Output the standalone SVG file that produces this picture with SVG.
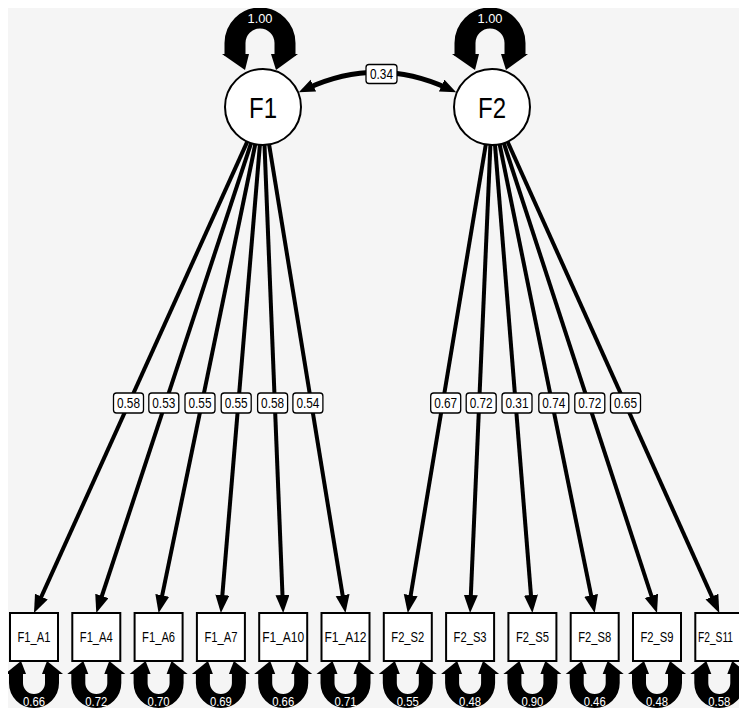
<svg xmlns="http://www.w3.org/2000/svg" width="739" height="708" viewBox="0 0 739 708">
<defs>
<clipPath id="clip"><rect x="8" y="8" width="731" height="700"/></clipPath>
<marker id="ah" markerUnits="userSpaceOnUse" markerWidth="20" markerHeight="16" refX="8" refY="7" orient="auto"><path d="M0,0 L18,7 L0,14 Z" fill="#000"/></marker>
<marker id="ahc" markerUnits="userSpaceOnUse" markerWidth="18" markerHeight="14" refX="7" refY="6.5" orient="auto-start-reverse"><path d="M0,0 L16,6.5 L0,13 Z" fill="#000"/></marker>
</defs>
<style>
text{font-family:"Liberation Sans",Arial,sans-serif;text-anchor:middle}
.ld{stroke:#000;stroke-width:4;fill:none;marker-end:url(#ah)}
.cv{stroke:#000;stroke-width:5;fill:none;marker-start:url(#ahc);marker-end:url(#ahc)}
.lt{stroke:#000;stroke-width:21;fill:none}
.lb{stroke:#000;stroke-width:14;fill:none}
.lv{fill:#fff;font-size:13px}
.el rect{fill:#fff;stroke:#000;stroke-width:1.3}
.el text{font-size:14px;fill:#000}
.lat circle{fill:#fff;stroke:#000;stroke-width:2}
.lat text{font-size:29px;fill:#000}
.man rect{fill:#fff;stroke:#000;stroke-width:2}
.man text{font-size:14px;fill:#000}
</style>
<rect x="0" y="0" width="739" height="708" fill="#fff"/>
<rect x="8" y="8" width="731" height="700" fill="#f5f5f5"/>
<g clip-path="url(#clip)">
<g id="connectors">
<line class="ld" x1="247.3" y1="141.6" x2="38.1" y2="603.9"/>
<line class="ld" x1="251.1" y1="143.1" x2="99.4" y2="603.5"/>
<line class="ld" x1="255.3" y1="144.2" x2="160.6" y2="603.2"/>
<line class="ld" x1="259.9" y1="144.9" x2="221.7" y2="603.0"/>
<line class="ld" x1="264.5" y1="145.0" x2="282.8" y2="603.0"/>
<line class="ld" x1="269.1" y1="144.5" x2="343.9" y2="603.1"/>
<line class="ld" x1="485.8" y1="144.5" x2="409.4" y2="603.1"/>
<line class="ld" x1="490.4" y1="145.0" x2="470.5" y2="603.0"/>
<line class="ld" x1="495.0" y1="144.9" x2="531.6" y2="603.0"/>
<line class="ld" x1="499.6" y1="144.2" x2="592.7" y2="603.2"/>
<line class="ld" x1="503.8" y1="143.1" x2="653.9" y2="603.5"/>
<line class="ld" x1="507.6" y1="141.7" x2="715.2" y2="603.9"/>
<path class="cv" d="M307,88.5 Q377.5,56 448,88.5"/>
<path class="lt" d="M235,56 L235,43 A25,25 0 0 1 285,43 L285,56"/>
<polygon points="222,54 249,54 245,70"/>
<polygon points="271,54 298,54 276,70"/>
<text class="lv" x="260" y="22.5" textLength="25" lengthAdjust="spacingAndGlyphs">1.00</text>
<path class="lt" d="M465,56 L465,43 A25,25 0 0 1 515,43 L515,56"/>
<polygon points="452,54 479,54 475,70"/>
<polygon points="501,54 528,54 506,70"/>
<text class="lv" x="490" y="22.5" textLength="25" lengthAdjust="spacingAndGlyphs">1.00</text>
<g id="resid">
<path class="lb" d="M16,672 L16,683 A18,18 0 0 0 52,683 L52,672"/><polygon points="5,674 26,674 21,661"/><polygon points="42,674 63,674 47,661"/><text class="lv" x="34" y="706" textLength="22" lengthAdjust="spacingAndGlyphs">0.66</text>
<path class="lb" d="M78.3,672 L78.3,683 A18,18 0 0 0 114.3,683 L114.3,672"/><polygon points="67.3,674 88.3,674 83.3,661"/><polygon points="104.3,674 125.3,674 109.3,661"/><text class="lv" x="96.3" y="706" textLength="22" lengthAdjust="spacingAndGlyphs">0.72</text>
<path class="lb" d="M140.6,672 L140.6,683 A18,18 0 0 0 176.6,683 L176.6,672"/><polygon points="129.6,674 150.6,674 145.6,661"/><polygon points="166.6,674 187.6,674 171.6,661"/><text class="lv" x="158.6" y="706" textLength="22" lengthAdjust="spacingAndGlyphs">0.70</text>
<path class="lb" d="M202.9,672 L202.9,683 A18,18 0 0 0 238.9,683 L238.9,672"/><polygon points="191.9,674 212.9,674 207.9,661"/><polygon points="228.9,674 249.9,674 233.9,661"/><text class="lv" x="220.9" y="706" textLength="22" lengthAdjust="spacingAndGlyphs">0.69</text>
<path class="lb" d="M265.2,672 L265.2,683 A18,18 0 0 0 301.2,683 L301.2,672"/><polygon points="254.2,674 275.2,674 270.2,661"/><polygon points="291.2,674 312.2,674 296.2,661"/><text class="lv" x="283.2" y="706" textLength="22" lengthAdjust="spacingAndGlyphs">0.66</text>
<path class="lb" d="M327.5,672 L327.5,683 A18,18 0 0 0 363.5,683 L363.5,672"/><polygon points="316.5,674 337.5,674 332.5,661"/><polygon points="353.5,674 374.5,674 358.5,661"/><text class="lv" x="345.5" y="706" textLength="22" lengthAdjust="spacingAndGlyphs">0.71</text>
<path class="lb" d="M389.8,672 L389.8,683 A18,18 0 0 0 425.8,683 L425.8,672"/><polygon points="378.8,674 399.8,674 394.8,661"/><polygon points="415.8,674 436.8,674 420.8,661"/><text class="lv" x="407.8" y="706" textLength="22" lengthAdjust="spacingAndGlyphs">0.55</text>
<path class="lb" d="M452.1,672 L452.1,683 A18,18 0 0 0 488.1,683 L488.1,672"/><polygon points="441.1,674 462.1,674 457.1,661"/><polygon points="478.1,674 499.1,674 483.1,661"/><text class="lv" x="470.1" y="706" textLength="22" lengthAdjust="spacingAndGlyphs">0.48</text>
<path class="lb" d="M514.4,672 L514.4,683 A18,18 0 0 0 550.4,683 L550.4,672"/><polygon points="503.4,674 524.4,674 519.4,661"/><polygon points="540.4,674 561.4,674 545.4,661"/><text class="lv" x="532.4" y="706" textLength="22" lengthAdjust="spacingAndGlyphs">0.90</text>
<path class="lb" d="M576.7,672 L576.7,683 A18,18 0 0 0 612.7,683 L612.7,672"/><polygon points="565.7,674 586.7,674 581.7,661"/><polygon points="602.7,674 623.7,674 607.7,661"/><text class="lv" x="594.7" y="706" textLength="22" lengthAdjust="spacingAndGlyphs">0.46</text>
<path class="lb" d="M639,672 L639,683 A18,18 0 0 0 675,683 L675,672"/><polygon points="628,674 649,674 644,661"/><polygon points="665,674 686,674 670,661"/><text class="lv" x="657" y="706" textLength="22" lengthAdjust="spacingAndGlyphs">0.48</text>
<path class="lb" d="M701.3,672 L701.3,683 A18,18 0 0 0 737.3,683 L737.3,672"/><polygon points="690.3,674 711.3,674 706.3,661"/><polygon points="727.3,674 748.3,674 732.3,661"/><text class="lv" x="719.3" y="706" textLength="22" lengthAdjust="spacingAndGlyphs">0.58</text>
</g>
<g class="el">
<rect x="366" y="64.5" width="31" height="19" rx="3"/><text x="381.5" y="79" textLength="23" lengthAdjust="spacingAndGlyphs">0.34</text>
<rect x="113.5" y="393" width="30" height="20" rx="3"/><text x="128.5" y="408" textLength="23" lengthAdjust="spacingAndGlyphs">0.58</text>
<rect x="148.8" y="393" width="30" height="20" rx="3"/><text x="163.8" y="408" textLength="23" lengthAdjust="spacingAndGlyphs">0.53</text>
<rect x="185" y="393" width="30" height="20" rx="3"/><text x="200" y="408" textLength="23" lengthAdjust="spacingAndGlyphs">0.55</text>
<rect x="221.2" y="393" width="30" height="20" rx="3"/><text x="236.2" y="408" textLength="23" lengthAdjust="spacingAndGlyphs">0.55</text>
<rect x="257.6" y="393" width="30" height="20" rx="3"/><text x="272.6" y="408" textLength="23" lengthAdjust="spacingAndGlyphs">0.58</text>
<rect x="292.9" y="393" width="30" height="20" rx="3"/><text x="307.9" y="408" textLength="23" lengthAdjust="spacingAndGlyphs">0.54</text>
<rect x="430.7" y="393" width="30" height="20" rx="3"/><text x="445.7" y="408" textLength="23" lengthAdjust="spacingAndGlyphs">0.67</text>
<rect x="466.2" y="393" width="30" height="20" rx="3"/><text x="481.2" y="408" textLength="23" lengthAdjust="spacingAndGlyphs">0.72</text>
<rect x="502" y="393" width="30" height="20" rx="3"/><text x="517" y="408" textLength="23" lengthAdjust="spacingAndGlyphs">0.31</text>
<rect x="538.8" y="393" width="30" height="20" rx="3"/><text x="553.8" y="408" textLength="23" lengthAdjust="spacingAndGlyphs">0.74</text>
<rect x="574.8" y="393" width="30" height="20" rx="3"/><text x="589.8" y="408" textLength="23" lengthAdjust="spacingAndGlyphs">0.72</text>
<rect x="610.5" y="393" width="30" height="20" rx="3"/><text x="625.5" y="408" textLength="23" lengthAdjust="spacingAndGlyphs">0.65</text>
</g>
</g>
<g id="F1" class="lat"><circle cx="263" cy="107" r="38"/><text x="263" y="118" textLength="28" lengthAdjust="spacingAndGlyphs">F1</text></g>
<g id="F2" class="lat"><circle cx="492" cy="107" r="38"/><text x="492" y="118" textLength="28" lengthAdjust="spacingAndGlyphs">F2</text></g>
<g id="F1_A1" class="man"><rect x="10" y="613" width="48" height="48"/><text x="34" y="642" textLength="33" lengthAdjust="spacingAndGlyphs">F1_A1</text></g>
<g id="F1_A4" class="man"><rect x="72.3" y="613" width="48" height="48"/><text x="96.3" y="642" textLength="33" lengthAdjust="spacingAndGlyphs">F1_A4</text></g>
<g id="F1_A6" class="man"><rect x="134.6" y="613" width="48" height="48"/><text x="158.6" y="642" textLength="33" lengthAdjust="spacingAndGlyphs">F1_A6</text></g>
<g id="F1_A7" class="man"><rect x="196.9" y="613" width="48" height="48"/><text x="220.9" y="642" textLength="33" lengthAdjust="spacingAndGlyphs">F1_A7</text></g>
<g id="F1_A10" class="man"><rect x="259.2" y="613" width="48" height="48"/><text x="283.2" y="642" textLength="42" lengthAdjust="spacingAndGlyphs">F1_A10</text></g>
<g id="F1_A12" class="man"><rect x="321.5" y="613" width="48" height="48"/><text x="345.5" y="642" textLength="42" lengthAdjust="spacingAndGlyphs">F1_A12</text></g>
<g id="F2_S2" class="man"><rect x="383.8" y="613" width="48" height="48"/><text x="407.8" y="642" textLength="33" lengthAdjust="spacingAndGlyphs">F2_S2</text></g>
<g id="F2_S3" class="man"><rect x="446.1" y="613" width="48" height="48"/><text x="470.1" y="642" textLength="33" lengthAdjust="spacingAndGlyphs">F2_S3</text></g>
<g id="F2_S5" class="man"><rect x="508.4" y="613" width="48" height="48"/><text x="532.4" y="642" textLength="33" lengthAdjust="spacingAndGlyphs">F2_S5</text></g>
<g id="F2_S8" class="man"><rect x="570.7" y="613" width="48" height="48"/><text x="594.7" y="642" textLength="33" lengthAdjust="spacingAndGlyphs">F2_S8</text></g>
<g id="F2_S9" class="man"><rect x="633" y="613" width="48" height="48"/><text x="657" y="642" textLength="33" lengthAdjust="spacingAndGlyphs">F2_S9</text></g>
<g id="F2_S11" class="man"><rect x="695.3" y="613" width="48" height="48"/><text x="715.5" y="642" textLength="35" lengthAdjust="spacingAndGlyphs">F2_S11</text></g>
</g>
</svg>
